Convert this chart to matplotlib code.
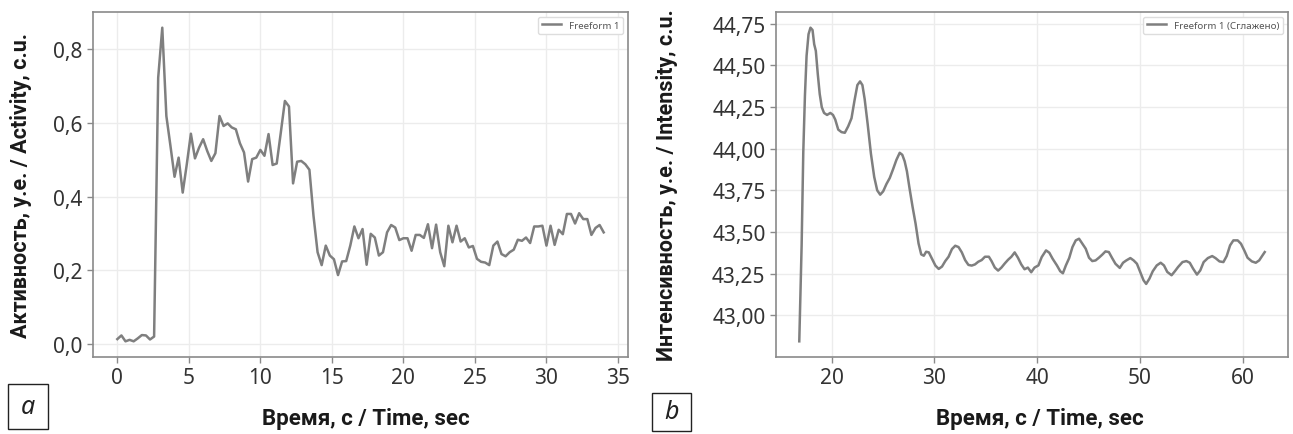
import numpy as np
import matplotlib
matplotlib.use("Agg")
import matplotlib.pyplot as plt
import matplotlib.ticker as ticker
from matplotlib.patches import Rectangle

plt.rcParams['font.family'] = ['Noto Sans', 'DejaVu Sans']

# Активность (частота записи 3,5 Гц)
activity = [
    0.013, 0.023, 0.007, 0.011, 0.007, 0.015, 0.024, 0.023, 0.012, 0.020,
    0.723, 0.859, 0.619, 0.538, 0.454, 0.506, 0.411, 0.488, 0.571, 0.504,
    0.533, 0.556, 0.524, 0.497, 0.518, 0.619, 0.592, 0.599, 0.588, 0.583,
    0.545, 0.520, 0.441, 0.502, 0.506, 0.527, 0.511, 0.570, 0.486, 0.490,
    0.574, 0.660, 0.645, 0.436, 0.495, 0.497, 0.488, 0.473, 0.348, 0.249,
    0.214, 0.267, 0.240, 0.230, 0.187, 0.224, 0.225, 0.267, 0.319, 0.287,
    0.312, 0.215, 0.299, 0.289, 0.240, 0.249, 0.303, 0.323, 0.316, 0.282,
    0.287, 0.287, 0.253, 0.296, 0.296, 0.288, 0.325, 0.260, 0.324, 0.249,
    0.211, 0.321, 0.276, 0.321, 0.278, 0.287, 0.262, 0.266, 0.231, 0.223,
    0.221, 0.214, 0.267, 0.278, 0.244, 0.238, 0.249, 0.256, 0.283, 0.280,
    0.289, 0.274, 0.319, 0.319, 0.321, 0.267, 0.321, 0.269, 0.310, 0.298,
    0.353, 0.353, 0.327, 0.355, 0.339, 0.339, 0.296, 0.315, 0.323, 0.303,
]
sample_rate = 3.5
activity_time = np.arange(len(activity)) / sample_rate

# Интенсивность (сглаженная)
intensity_time = [
    16.85, 17.08, 17.24, 17.40, 17.56, 17.75, 17.94, 18.14, 18.30, 18.46,
    18.65, 18.84, 19.04, 19.26, 19.55, 19.87, 20.13, 20.35, 20.64, 20.96,
    21.28, 21.61, 21.93, 22.22, 22.50, 22.76, 22.99, 23.21, 23.50, 23.82,
    24.14, 24.43, 24.72, 25.01, 25.33, 25.65, 25.97, 26.30, 26.62, 26.87,
    27.10, 27.32, 27.58, 27.87, 28.16, 28.45, 28.71, 28.96, 29.19, 29.45,
    29.77, 30.09, 30.41, 30.73, 31.05, 31.37, 31.70, 32.02, 32.34, 32.66,
    32.98, 33.30, 33.62, 33.94, 34.26, 34.59, 34.91, 35.29, 35.55, 35.87,
    36.19, 36.51, 36.84, 37.16, 37.48, 37.80, 38.12, 38.44, 38.76, 39.08,
    39.41, 39.73, 40.11, 40.43, 40.85, 41.17, 41.49, 41.91, 42.23, 42.49,
    42.78, 43.10, 43.42, 43.74, 44.06, 44.38, 44.71, 45.03, 45.35, 45.67,
    45.99, 46.31, 46.63, 46.96, 47.28, 47.60, 48.02, 48.34, 48.66, 49.05,
    49.37, 49.69, 50.01, 50.33, 50.59, 50.91, 51.23, 51.62, 52.00, 52.32,
    52.64, 53.06, 53.38, 53.70, 54.12, 54.50, 54.83, 55.15, 55.53, 55.85,
    56.18, 56.59, 57.01, 57.33, 57.72, 58.10, 58.42, 58.75, 59.07, 59.49,
    59.81, 60.13, 60.45, 60.87, 61.25, 61.58, 61.90, 62.12,
]
intensity = [
    42.845, 43.422, 43.979, 44.317, 44.556, 44.686, 44.725, 44.711, 44.626, 44.586,
    44.447, 44.327, 44.248, 44.214, 44.202, 44.214, 44.202, 44.174, 44.114, 44.099,
    44.095, 44.134, 44.182, 44.288, 44.381, 44.403, 44.381, 44.297, 44.148, 43.969,
    43.830, 43.750, 43.724, 43.744, 43.788, 43.824, 43.876, 43.933, 43.975, 43.963,
    43.924, 43.864, 43.760, 43.651, 43.551, 43.432, 43.366, 43.358, 43.382, 43.378,
    43.338, 43.299, 43.279, 43.293, 43.326, 43.352, 43.398, 43.418, 43.410, 43.378,
    43.332, 43.303, 43.299, 43.306, 43.322, 43.332, 43.352, 43.352, 43.326, 43.287,
    43.269, 43.287, 43.312, 43.334, 43.352, 43.378, 43.346, 43.306, 43.277, 43.287,
    43.259, 43.287, 43.300, 43.350, 43.390, 43.376, 43.340, 43.300, 43.265, 43.253,
    43.300, 43.344, 43.410, 43.450, 43.460, 43.430, 43.400, 43.346, 43.326, 43.330,
    43.346, 43.364, 43.384, 43.380, 43.344, 43.310, 43.285, 43.316, 43.330, 43.344,
    43.330, 43.310, 43.261, 43.211, 43.189, 43.221, 43.265, 43.300, 43.316, 43.300,
    43.261, 43.241, 43.265, 43.291, 43.320, 43.326, 43.316, 43.281, 43.245, 43.270,
    43.320, 43.344, 43.356, 43.344, 43.324, 43.320, 43.356, 43.420, 43.450, 43.450,
    43.430, 43.390, 43.346, 43.324, 43.316, 43.330, 43.360, 43.380,
]

activity_ticks = [0.0, 0.2, 0.4, 0.6, 0.8]
intensity_ticks = [43.00, 43.25, 43.50, 43.75, 44.00, 44.25, 44.50, 44.75]

line_color = "#7f7f7f"
spine_color = "#8a8a8a"
text_color = "#333333"
label_font = dict(family=["Roboto", "DejaVu Sans"], fontweight="bold", color="#1a1a1a")


def comma(decimals):
    return ticker.FuncFormatter(lambda v, _: f"{v:.{decimals}f}".replace(".", ","))


def style_axes(ax):
    ax.grid(True, color="#ececec", linewidth=1.0)
    ax.set_axisbelow(True)
    for s in ax.spines.values():
        s.set_color(spine_color)
        s.set_linewidth(1.2)
    ax.tick_params(colors=spine_color, labelcolor=text_color, labelsize=15,
                   length=4, width=1)
    leg = ax.legend(loc="upper right", fontsize=7, frameon=True,
                    edgecolor="#dddddd", framealpha=1.0)
    for t in leg.get_texts():
        t.set_color("#555555")


def panel_letter(fig, x0, y0, x1, y1, letter):
    W, H = 1293, 435
    fig.add_artist(Rectangle((x0 / W, 1 - y1 / H), (x1 - x0) / W, (y1 - y0) / H,
                             transform=fig.transFigure, fill=False,
                             edgecolor="#222222", linewidth=1.0))
    fig.text((x0 + x1) / 2 / W, 1 - (y0 + y1) / 2 / H, letter, style="italic",
             fontsize=18, ha="center", va="center", color="#222222")


fig = plt.figure(figsize=(12.93, 4.35), dpi=100)

ax1 = fig.add_axes([93 / 1293, 77 / 435, 535 / 1293, 345 / 435])
ax1.plot(activity_time, activity, color=line_color, linewidth=1.8, label="Freeform 1")
ax1.set_xticks([0, 5, 10, 15, 20, 25, 30, 35])
ax1.set_yticks(activity_ticks)
ax1.yaxis.set_major_formatter(comma(1))
ax1.set_xlabel("Время, с / Time, sec", fontsize=16, **label_font)
ax1.set_ylabel("Активность, у.е. / Activity, с.u.", fontsize=15.5, **label_font)
ax1.xaxis.set_label_coords(0.51, -0.145)
ax1.yaxis.set_label_coords(-0.114, 0.5)
style_axes(ax1)

ax2 = fig.add_axes([776 / 1293, 77 / 435, 512 / 1293, 345 / 435])
ax2.plot(intensity_time, intensity, color=line_color, linewidth=1.8,
         label="Freeform 1 (Сглажено)")
ax2.set_xticks([20, 30, 40, 50, 60])
ax2.set_yticks(intensity_ticks)
ax2.yaxis.set_major_formatter(comma(2))
ax2.set_xlabel("Время, с / Time, sec", fontsize=16, **label_font)
ax2.set_ylabel("Интенсивность, у.е. / Intensity, с.u.", fontsize=15.5, **label_font)
ax2.xaxis.set_label_coords(0.515, -0.145)
ax2.yaxis.set_label_coords(-0.191, 0.5)
style_axes(ax2)

panel_letter(fig, 8, 385, 48, 430, "a")
panel_letter(fig, 652, 394, 691, 432, "b")

fig.savefig("out.png", dpi=100)
